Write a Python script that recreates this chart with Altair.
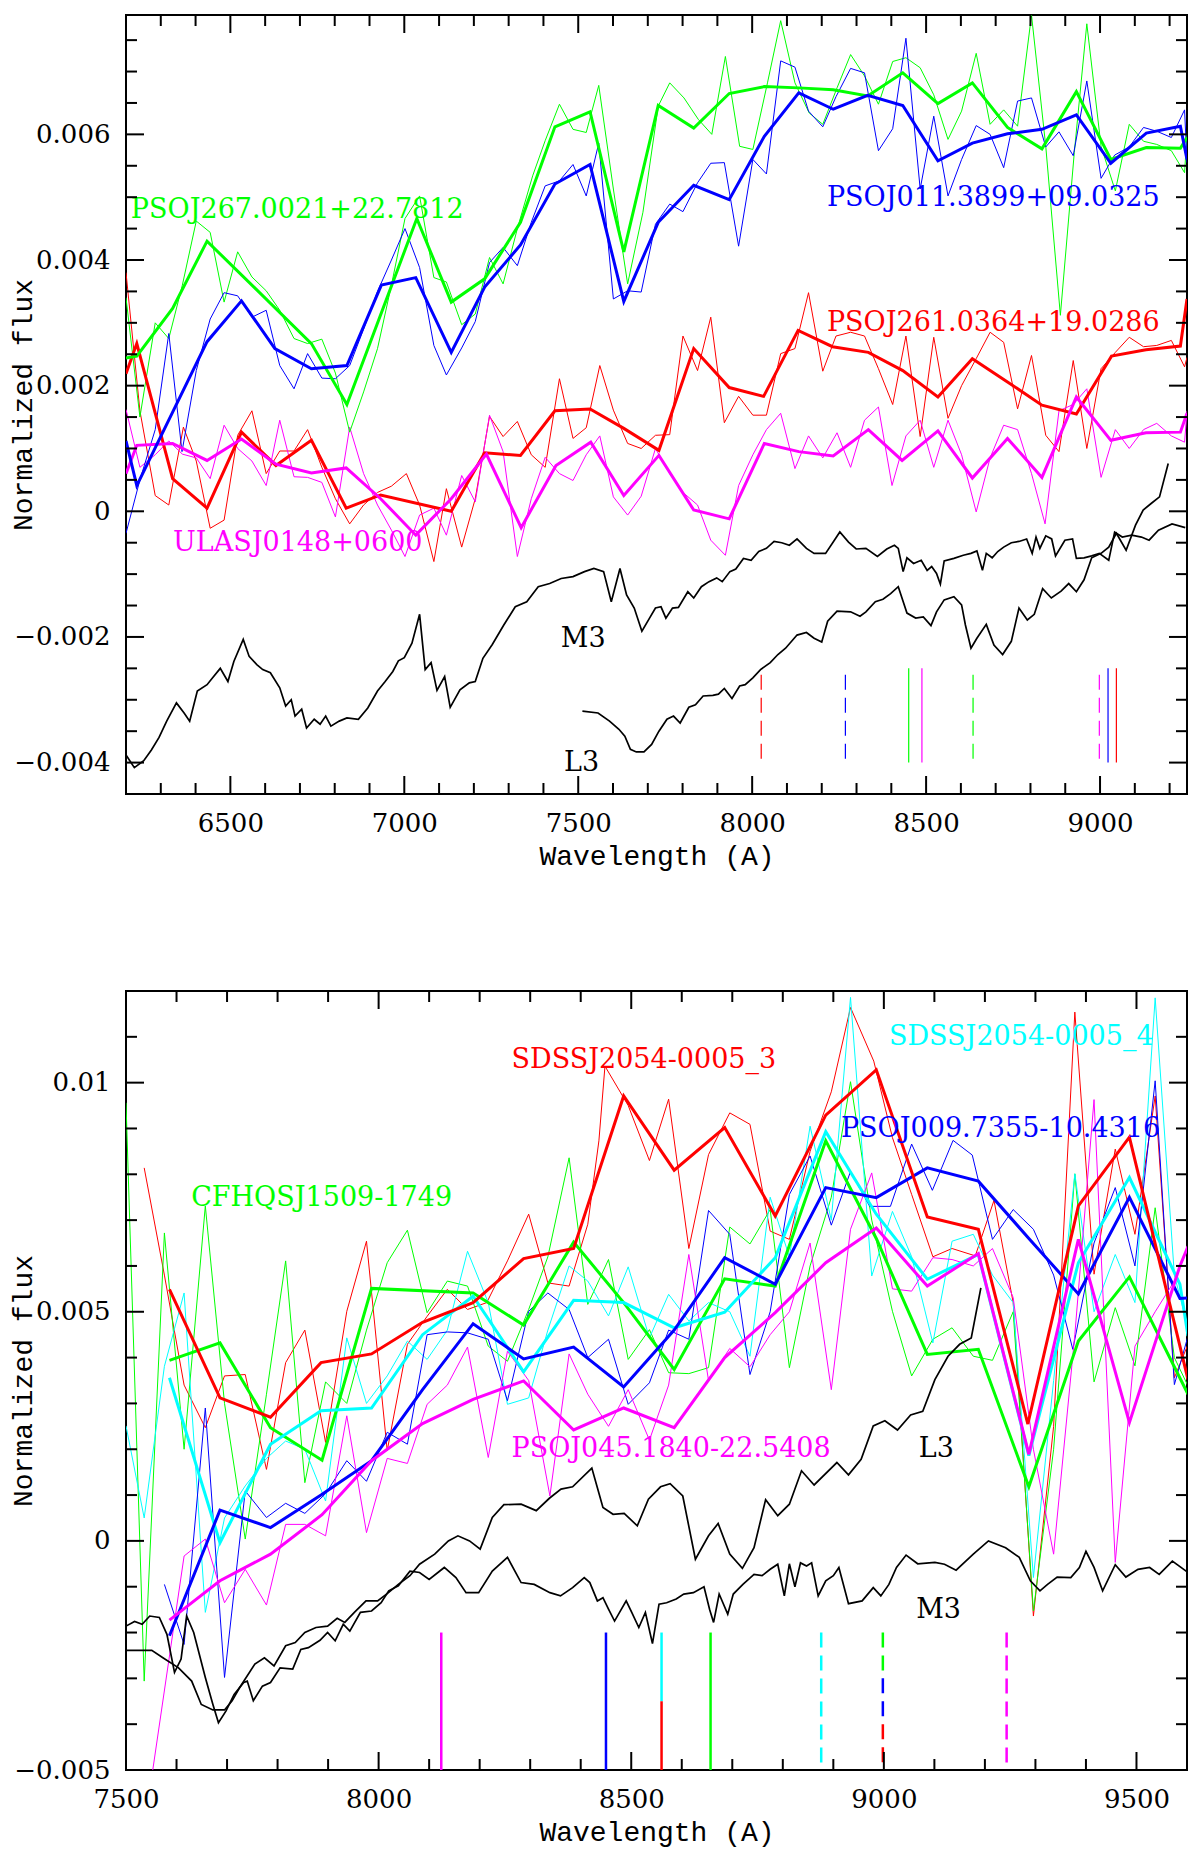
import altair as alt
import pandas as pd

GREEN = '#00ff00'
BLUE = '#0000ff'
RED = '#ff0000'
MAGENTA = '#ff00ff'
CYAN = '#00ffff'
BLACK = '#000000'

# ---------------- top panel: (wavelength A, flux in units of 1e-3) ----------------
top_green_bin = [(6200, 2.44), (6231, 2.47), (6334, 3.23), (6433, 4.30), (6733, 2.67), (6835, 1.70),
                 (7036, 4.66), (7135, 3.33), (7231, 3.70), (7334, 4.60), (7433, 6.12), (7534, 6.36),
                 (7631, 4.13), (7730, 6.46), (7832, 6.10), (7934, 6.65), (8035, 6.76), (8134, 6.74),
                 (8233, 6.71), (8332, 6.61), (8433, 6.98), (8534, 6.49), (8633, 6.82), (8734, 6.11),
                 (8833, 5.77), (8932, 6.68), (9031, 5.60), (9133, 5.79), (9231, 5.78), (9250, 5.95)]
top_blue_bin = [(6200, 1.12), (6231, 0.41), (6433, 2.70), (6532, 3.35), (6628, 2.59), (6733, 2.27),
                (6835, 2.32), (6934, 3.60), (7033, 3.72), (7135, 2.53), (7231, 3.57), (7334, 4.24),
                (7433, 5.21), (7534, 5.52), (7631, 3.34), (7730, 4.60), (7832, 5.19), (7934, 4.96),
                (8035, 5.97), (8134, 6.66), (8233, 6.40), (8332, 6.62), (8433, 6.46), (8534, 5.58),
                (8633, 5.86), (8734, 6.01), (8833, 6.08), (8932, 6.31), (9031, 5.54), (9133, 6.02),
                (9231, 6.13), (9250, 5.60)]
top_red_bin = [(6200, 2.19), (6231, 2.67), (6334, 0.52), (6433, 0.05), (6532, 1.26), (6631, 0.73),
               (6733, 1.13), (6833, 0.05), (6932, 0.26), (7135, 0.00), (7231, 0.93), (7334, 0.89),
               (7433, 1.60), (7534, 1.63), (7631, 1.32), (7732, 0.97), (7832, 2.59), (7934, 1.97),
               (8033, 1.83), (8132, 2.88), (8231, 2.62), (8334, 2.53), (8433, 2.24), (8534, 1.82),
               (8633, 2.43), (8734, 2.06), (8833, 1.69), (8932, 1.55), (9033, 2.47), (9132, 2.57),
               (9231, 2.63), (9250, 3.38)]
top_magenta_bin = [(6200, 0.60), (6231, 1.05), (6334, 1.08), (6433, 0.81), (6532, 1.15), (6631, 0.75),
                   (6733, 0.61), (6833, 0.69), (6932, 0.20), (7033, -0.38), (7135, 0.20), (7236, 0.91),
                   (7336, -0.26), (7436, 0.73), (7536, 1.10), (7631, 0.25), (7732, 0.89), (7832, 0.02),
                   (7934, -0.12), (8035, 1.08), (8134, 0.95), (8233, 0.88), (8334, 1.30), (8431, 0.81),
                   (8534, 1.28), (8633, 0.53), (8734, 1.16), (8833, 0.54), (8932, 1.82), (9031, 1.13),
                   (9132, 1.25), (9231, 1.26), (9250, 1.56)]

top_green_raw = [(6200, 3.40), (6240, 1.50), (6284, 3.00), (6323, 2.75), (6362, 3.60), (6402, 4.62),
                 (6442, 4.44), (6482, 3.33), (6521, 4.13), (6562, 3.73), (6603, 3.51), (6642, 3.20),
                 (6683, 2.75), (6722, 2.67), (6763, 2.74), (6802, 2.20), (6843, 1.26), (6883, 1.90),
                 (6923, 2.59), (6963, 3.60), (7002, 4.66), (7044, 5.02), (7085, 3.72), (7121, 3.65),
                 (7165, 2.97), (7204, 3.14), (7245, 4.04), (7284, 3.62), (7325, 4.50), (7369, 5.34),
                 (7405, 5.90), (7446, 6.48), (7485, 6.08), (7523, 6.03), (7559, 6.78), (7601, 5.13),
                 (7642, 3.62), (7686, 4.76), (7730, 6.45), (7763, 6.82), (7804, 6.58), (7845, 6.24),
                 (7884, 6.00), (7923, 7.24), (7964, 5.81), (8002, 5.76), (8044, 6.82), (8082, 7.81),
                 (8123, 6.82), (8164, 6.34), (8203, 6.16), (8244, 6.74), (8283, 7.27), (8323, 6.93),
                 (8363, 6.48), (8404, 7.16), (8442, 7.22), (8483, 7.06), (8522, 6.63), (8563, 5.92),
                 (8602, 6.37), (8644, 7.29), (8684, 6.16), (8723, 6.39), (8763, 6.13), (8803, 7.90),
                 (8844, 5.81), (8886, 3.12), (8926, 5.71), (8962, 7.76), (9003, 5.81), (9044, 5.10),
                 (9084, 6.16), (9125, 5.89), (9163, 5.84), (9205, 5.74), (9243, 5.39), (9250, 6.00)]
top_blue_raw = [(6200, -0.35), (6240, 0.50), (6284, 1.30), (6323, 2.83), (6361, 0.95), (6402, 2.24),
                (6442, 3.06), (6482, 3.48), (6521, 3.43), (6562, 3.09), (6603, 3.20), (6642, 2.32),
                (6683, 1.95), (6722, 2.51), (6763, 2.12), (6802, 2.11), (6843, 2.32), (6883, 2.90),
                (6923, 3.50), (6963, 4.00), (7002, 4.50), (7044, 3.88), (7085, 2.64), (7121, 2.17),
                (7165, 2.60), (7204, 3.02), (7245, 3.96), (7284, 4.20), (7325, 3.91), (7365, 4.60),
                (7405, 5.18), (7446, 5.26), (7485, 5.52), (7523, 5.02), (7559, 5.86), (7601, 3.38),
                (7642, 3.51), (7681, 3.49), (7722, 4.57), (7763, 4.89), (7801, 4.77), (7843, 5.23),
                (7881, 5.54), (7920, 5.55), (7961, 4.22), (8002, 5.60), (8041, 5.37), (8082, 7.17),
                (8123, 7.07), (8162, 6.37), (8203, 6.12), (8241, 6.60), (8283, 7.05), (8323, 6.98),
                (8363, 5.74), (8404, 6.09), (8442, 7.53), (8483, 5.13), (8522, 6.29), (8563, 5.02),
                (8602, 5.60), (8644, 6.14), (8684, 6.00), (8723, 5.47), (8763, 6.53), (8803, 6.58),
                (8844, 5.80), (8882, 6.04), (8923, 5.66), (8962, 6.85), (9003, 5.30), (9042, 5.67),
                (9084, 5.80), (9125, 6.11), (9163, 6.05), (9205, 5.95), (9243, 6.39), (9250, 5.55)]
top_red_raw = [(6200, 3.80), (6240, 1.60), (6284, 0.25), (6323, 0.10), (6365, 1.34), (6402, 0.80),
               (6442, -0.27), (6482, -0.14), (6521, 1.21), (6562, 1.60), (6603, 0.60), (6642, 0.96),
               (6683, 0.96), (6722, 1.30), (6763, 0.70), (6802, 0.20), (6843, -0.20), (6883, 0.10),
               (6923, 0.30), (6963, 0.40), (7006, 0.60), (7044, 0.10), (7085, -0.80), (7121, 0.36),
               (7165, -0.57), (7204, 0.20), (7245, 1.51), (7284, 1.19), (7325, 1.43), (7365, 0.90),
               (7405, 0.70), (7446, 2.11), (7485, 1.16), (7523, 1.33), (7562, 2.32), (7601, 1.61),
               (7642, 1.08), (7681, 1.00), (7722, 1.21), (7763, 1.22), (7801, 2.79), (7843, 2.24),
               (7881, 3.09), (7920, 1.41), (7961, 1.83), (8002, 1.53), (8041, 1.53), (8082, 2.51),
               (8123, 2.59), (8162, 3.48), (8203, 2.23), (8241, 2.79), (8283, 2.85), (8323, 2.79),
               (8363, 2.27), (8404, 1.70), (8442, 2.79), (8483, 1.19), (8522, 2.77), (8563, 1.48),
               (8602, 2.00), (8644, 2.43), (8684, 2.85), (8723, 2.69), (8763, 1.63), (8803, 2.48),
               (8844, 1.21), (8882, 0.95), (8923, 2.40), (8962, 1.00), (9003, 2.27), (9044, 2.53),
               (9084, 2.77), (9125, 2.62), (9163, 2.64), (9205, 2.72), (9243, 2.30), (9250, 2.45)]
top_magenta_raw = [(6200, 1.62), (6240, 0.70), (6284, 0.90), (6323, 1.12), (6362, 0.91), (6402, 0.85),
                   (6442, 0.52), (6482, 1.37), (6521, 1.00), (6562, 0.80), (6603, 0.41), (6642, 1.45),
                   (6683, 0.55), (6722, 0.54), (6763, 0.46), (6802, -0.09), (6843, 1.34), (6883, 0.60),
                   (6923, 0.10), (6963, -0.30), (7002, -0.72), (7044, -0.06), (7085, 0.05), (7121, -0.38),
                   (7165, 0.57), (7204, 0.15), (7245, 1.53), (7284, 0.95), (7325, -0.72), (7365, 0.20),
                   (7405, 0.86), (7446, 0.60), (7485, 0.49), (7523, 0.90), (7562, 1.20), (7601, 0.23),
                   (7642, -0.06), (7681, 0.24), (7722, 1.00), (7763, 0.60), (7801, 0.30), (7843, 0.10),
                   (7881, -0.46), (7923, -0.70), (7961, 0.41), (8002, 0.90), (8041, 1.30), (8082, 1.56),
                   (8123, 0.68), (8162, 1.20), (8203, 0.85), (8244, 1.25), (8283, 0.70), (8323, 1.45),
                   (8363, 1.66), (8402, 0.41), (8442, 1.20), (8483, 1.45), (8522, 0.70), (8563, 1.45),
                   (8602, 0.90), (8644, -0.01), (8684, 0.85), (8723, 1.37), (8763, 1.30), (8803, 0.60),
                   (8842, -0.20), (8882, 1.60), (8923, 1.70), (8962, 1.95), (9003, 0.54), (9044, 1.30),
                   (9084, 1.00), (9125, 1.30), (9163, 1.40), (9205, 1.20), (9243, 1.10), (9250, 1.60)]

top_m3 = [(6200, -3.88), (6224, -4.08), (6251, -3.97), (6273, -3.80), (6295, -3.60), (6317, -3.34),
          (6345, -3.05), (6367, -3.21), (6383, -3.34), (6405, -2.86), (6433, -2.76), (6449, -2.65),
          (6471, -2.50), (6493, -2.71), (6510, -2.39), (6537, -2.04), (6554, -2.31), (6576, -2.44),
          (6593, -2.52), (6615, -2.57), (6642, -2.81), (6659, -3.10), (6675, -3.00), (6686, -3.26),
          (6705, -3.15), (6719, -3.45), (6741, -3.31), (6758, -3.39), (6774, -3.26), (6789, -3.42),
          (6813, -3.34), (6835, -3.29), (6868, -3.31), (6895, -3.13), (6923, -2.86), (6945, -2.71),
          (6967, -2.55), (6983, -2.38), (7000, -2.33), (7022, -2.10), (7044, -1.64), (7060, -2.52),
          (7077, -2.41), (7094, -2.85), (7116, -2.63), (7132, -3.12), (7160, -2.84), (7187, -2.73),
          (7204, -2.71), (7226, -2.34), (7253, -2.12), (7286, -1.81), (7319, -1.52), (7352, -1.44),
          (7385, -1.20), (7418, -1.15), (7451, -1.07), (7485, -1.04), (7518, -0.96), (7545, -0.91),
          (7573, -0.96), (7595, -1.44), (7620, -0.91), (7639, -1.33), (7661, -1.54), (7683, -1.91),
          (7705, -1.70), (7722, -1.54), (7738, -1.52), (7752, -1.70), (7771, -1.54), (7788, -1.53),
          (7815, -1.28), (7832, -1.38), (7854, -1.20), (7876, -1.12), (7898, -1.06), (7914, -1.12),
          (7936, -0.96), (7953, -0.92), (7975, -0.75), (7997, -0.78), (8019, -0.64), (8041, -0.59),
          (8063, -0.48), (8085, -0.50), (8107, -0.54), (8129, -0.44), (8156, -0.59), (8178, -0.67),
          (8211, -0.67), (8233, -0.49), (8252, -0.33), (8277, -0.49), (8299, -0.60), (8327, -0.59),
          (8360, -0.72), (8387, -0.60), (8409, -0.54), (8420, -0.59), (8434, -0.96), (8445, -0.74),
          (8464, -0.83), (8486, -0.78), (8503, -0.94), (8516, -0.88), (8530, -0.99), (8541, -1.16),
          (8552, -0.79), (8580, -0.75), (8607, -0.70), (8629, -0.67), (8646, -0.63), (8662, -0.94),
          (8673, -0.67), (8690, -0.74), (8706, -0.64), (8723, -0.57), (8745, -0.50), (8767, -0.48),
          (8789, -0.44), (8805, -0.67), (8816, -0.41), (8827, -0.59), (8844, -0.39), (8861, -0.44),
          (8872, -0.71), (8899, -0.46), (8921, -0.44), (8932, -0.75), (8954, -0.74), (8976, -0.71),
          (8998, -0.67), (9025, -0.78), (9042, -0.33), (9064, -0.41), (9091, -0.38), (9119, -0.41),
          (9141, -0.46), (9168, -0.30), (9207, -0.20), (9245, -0.26)]
top_l3 = [(7512, -3.18), (7557, -3.21), (7590, -3.34), (7617, -3.47), (7634, -3.58), (7650, -3.79),
          (7667, -3.83), (7689, -3.83), (7711, -3.71), (7732, -3.50), (7755, -3.31), (7774, -3.26),
          (7793, -3.37), (7818, -3.12), (7837, -3.08), (7859, -2.94), (7887, -2.93), (7903, -2.91),
          (7920, -2.82), (7942, -2.98), (7964, -2.78), (7980, -2.76), (8002, -2.65), (8024, -2.52),
          (8052, -2.41), (8074, -2.28), (8096, -2.18), (8129, -1.97), (8156, -1.93), (8178, -2.02),
          (8200, -2.08), (8217, -1.75), (8244, -1.59), (8283, -1.60), (8310, -1.67), (8327, -1.60),
          (8354, -1.44), (8376, -1.40), (8398, -1.31), (8420, -1.20), (8445, -1.62), (8470, -1.70),
          (8492, -1.68), (8514, -1.82), (8530, -1.60), (8552, -1.41), (8580, -1.36), (8602, -1.49),
          (8613, -1.81), (8629, -2.18), (8646, -2.02), (8673, -1.80), (8695, -2.13), (8720, -2.28),
          (8745, -2.07), (8767, -1.54), (8791, -1.73), (8811, -1.64), (8835, -1.23), (8860, -1.38),
          (8888, -1.27), (8910, -1.15), (8932, -1.28), (8954, -1.09), (8976, -0.74), (9003, -0.67),
          (9025, -0.57), (9047, -0.35), (9075, -0.62), (9102, -0.22), (9124, 0.02), (9146, 0.12),
          (9171, 0.23), (9196, 0.76)]

# line markers: wavelength, colour, dashed, top, bottom (flux 1e-3)
top_markers = [(8026, RED, True, -2.6, -4.0), (8268, BLUE, True, -2.6, -4.0),
               (8450, GREEN, False, -2.5, -4.0), (8488, MAGENTA, False, -2.5, -4.0),
               (8635, GREEN, True, -2.6, -4.0), (8998, MAGENTA, True, -2.6, -4.0),
               (9023, BLUE, False, -2.5, -4.0), (9047, RED, False, -2.5, -4.0)]
top_labels = [('PSOJ267.0021+22.7812', 6214, 4.80, GREEN), ('PSOJ011.3899+09.0325', 8215, 4.98, BLUE),
              ('PSOJ261.0364+19.0286', 8215, 3.00, RED), ('ULASJ0148+0600', 6335, -0.50, MAGENTA),
              ('M3', 7450, -2.03, BLACK), ('L3', 7459, -4.01, BLACK)]

# ---------------- bottom panel ----------------
bot_red_bin = [(7586, 5.49), (7686, 3.12), (7786, 2.70), (7886, 3.89), (7986, 4.08), (8087, 4.77),
               (8187, 5.20), (8287, 6.16), (8386, 6.38), (8485, 9.71), (8585, 8.09), (8685, 9.02),
               (8785, 7.09), (8885, 9.29), (8985, 10.28), (9086, 7.07), (9187, 6.80), (9285, 2.55),
               (9385, 7.31), (9486, 8.81), (9602, 3.52)]
bot_green_bin = [(7586, 3.94), (7686, 4.32), (7786, 2.47), (7888, 1.76), (7986, 5.51), (8187, 5.41),
                 (8287, 4.71), (8386, 6.52), (8485, 5.20), (8585, 3.74), (8685, 5.72), (8785, 5.56),
                 (8885, 8.73), (8985, 6.60), (9086, 4.07), (9187, 4.18), (9287, 1.18), (9385, 4.36),
                 (9486, 5.76), (9602, 3.20)]
bot_cyan_bin = [(7586, 3.56), (7686, -0.04), (7786, 2.11), (7886, 2.84), (7986, 2.90), (8087, 4.50),
                (8187, 5.34), (8287, 3.69), (8386, 5.25), (8485, 5.20), (8585, 4.65), (8685, 4.99),
                (8785, 6.18), (8885, 8.93), (8985, 7.13), (9086, 5.71), (9187, 6.25), (9287, 1.86),
                (9385, 6.07), (9486, 7.93), (9586, 5.60), (9602, 4.47)]
bot_blue_bin = [(7586, -2.07), (7686, 0.67), (7786, 0.29), (7886, 1.00), (7986, 1.75), (8087, 3.30),
                (8187, 4.74), (8287, 3.97), (8386, 4.23), (8485, 3.36), (8585, 4.60), (8685, 6.18),
                (8785, 5.60), (8885, 7.71), (8985, 7.49), (9086, 8.14), (9187, 7.85), (9287, 6.60),
                (9385, 5.39), (9486, 7.50), (9586, 5.29), (9602, 5.30)]
bot_magenta_bin = [(7586, -1.73), (7686, -0.87), (7786, -0.29), (7888, 0.57), (7986, 1.75), (8087, 2.56),
                   (8187, 3.09), (8287, 3.49), (8386, 2.42), (8485, 2.90), (8585, 2.47), (8685, 4.00),
                   (8785, 4.98), (8885, 6.07), (8985, 6.83), (9086, 5.56), (9187, 6.27), (9287, 1.89),
                   (9385, 6.58), (9486, 2.58), (9586, 6.00), (9602, 6.43)]

bot_red_raw = [(7536, 8.14), (7576, 5.80), (7615, 3.40), (7657, 2.47), (7695, 3.60), (7736, 3.63),
               (7778, 1.56), (7816, 3.89), (7854, 4.60), (7895, 2.15), (7937, 5.01), (7976, 6.54),
               (8017, 1.97), (8057, 4.29), (8096, 4.90), (8136, 5.49), (8176, 5.05), (8214, 5.20),
               (8255, 6.11), (8297, 7.13), (8335, 5.63), (8377, 5.56), (8414, 6.91), (8436, 8.73),
               (8448, 10.36), (8494, 9.50), (8536, 8.30), (8574, 9.64), (8614, 6.38), (8653, 8.43),
               (8695, 9.34), (8735, 9.09), (8775, 6.76), (8813, 6.58), (8854, 8.50), (8896, 9.80),
               (8934, 11.64), (8980, 10.47), (9017, 8.80), (9055, 7.56), (9097, 6.20), (9135, 6.38),
               (9181, 6.22), (9218, 7.43), (9256, 5.20), (9296, -1.64), (9336, 2.50), (9378, 11.54),
               (9416, 5.82), (9458, 8.55), (9497, 6.69), (9537, 9.71), (9575, 3.56), (9602, 4.29)]
bot_green_raw = [(7500, 9.56), (7536, -3.06), (7576, 6.72), (7615, 2.00), (7657, 7.31), (7695, 3.00),
                 (7736, 0.04), (7778, 3.20), (7816, 6.11), (7854, 1.27), (7895, 3.47), (7937, 3.00),
                 (7976, 4.60), (8017, 6.07), (8057, 6.78), (8096, 4.98), (8136, 5.67), (8176, 5.56),
                 (8217, 4.25), (8255, 3.92), (8297, 5.05), (8335, 6.20), (8377, 8.36), (8414, 5.16),
                 (8455, 6.14), (8494, 3.96), (8536, 4.61), (8574, 3.67), (8614, 3.65), (8653, 3.78),
                 (8695, 6.85), (8735, 6.48), (8775, 7.23), (8813, 3.78), (8854, 6.00), (8896, 7.50),
                 (8934, 10.02), (8976, 7.00), (9017, 5.01), (9055, 3.60), (9097, 4.40), (9135, 4.65),
                 (9177, 4.03), (9215, 3.94), (9256, 5.00), (9296, -1.53), (9336, 2.00), (9378, 8.01),
                 (9416, 3.47), (9458, 5.09), (9497, 3.82), (9537, 7.27), (9575, 4.00), (9602, 3.38)]
bot_cyan_raw = [(7500, 2.51), (7536, 0.50), (7576, 3.81), (7615, 5.41), (7657, -1.56), (7695, 0.50),
                (7736, 1.20), (7778, 1.80), (7816, 2.18), (7854, 2.00), (7895, 0.87), (7937, 4.43),
                (7976, 3.00), (8017, 3.60), (8057, 4.36), (8096, 3.96), (8136, 4.60), (8176, 6.32),
                (8217, 5.20), (8255, 2.98), (8297, 3.12), (8335, 4.60), (8377, 6.00), (8414, 5.67),
                (8455, 4.91), (8494, 5.98), (8536, 4.43), (8574, 5.38), (8614, 4.80), (8653, 5.20),
                (8695, 5.00), (8735, 4.03), (8775, 7.50), (8813, 6.20), (8854, 9.05), (8896, 7.00),
                (8934, 11.86), (8976, 5.78), (9017, 7.19), (9055, 6.20), (9097, 4.32), (9135, 6.54),
                (9177, 6.69), (9215, 5.80), (9256, 5.20), (9296, -0.80), (9336, 3.50), (9378, 8.01),
                (9416, 5.00), (9458, 6.25), (9497, 5.20), (9537, 11.85), (9575, 5.80), (9602, 4.65)]
bot_blue_raw = [(7576, -0.95), (7615, -2.26), (7657, 2.90), (7695, -2.98), (7736, 1.09), (7778, 0.51),
                (7816, 0.82), (7854, 0.60), (7895, 1.03), (7937, 1.75), (7976, 1.30), (8017, 2.37),
                (8057, 2.11), (8096, 4.50), (8136, 4.56), (8176, 4.54), (8217, 4.40), (8255, 3.06),
                (8297, 5.01), (8335, 5.41), (8377, 5.05), (8414, 4.00), (8455, 4.40), (8494, 2.98),
                (8536, 3.45), (8574, 4.60), (8614, 4.40), (8653, 7.21), (8695, 6.69), (8735, 3.63),
                (8775, 5.00), (8813, 7.56), (8854, 8.40), (8896, 6.89), (8934, 8.06), (8972, 7.30),
                (9013, 7.30), (9055, 8.66), (9096, 7.65), (9137, 8.74), (9175, 8.42), (9215, 6.58),
                (9256, 7.23), (9296, 6.80), (9336, 5.80), (9374, 4.18), (9416, 6.50), (9458, 7.71),
                (9497, 6.00), (9537, 10.04), (9575, 3.41), (9602, 4.47)]
bot_magenta_raw = [(7545, -5.60), (7615, -0.33), (7657, 0.04), (7695, -1.35), (7736, -0.62), (7778, -1.40),
                   (7816, 0.36), (7854, 0.36), (7895, 0.11), (7937, 2.73), (7976, 0.18), (8017, 1.80),
                   (8057, 1.69), (8096, 2.98), (8136, 3.40), (8176, 4.23), (8217, 1.82), (8255, 4.14),
                   (8297, 3.50), (8339, 0.98), (8377, 4.08), (8414, 3.20), (8455, 2.50), (8494, 3.30),
                   (8536, 2.20), (8574, 3.40), (8614, 6.25), (8653, 3.50), (8695, 4.20), (8735, 3.80),
                   (8775, 4.50), (8813, 5.00), (8854, 6.50), (8896, 3.30), (8934, 6.80), (8976, 8.03),
                   (9017, 5.50), (9055, 5.45), (9097, 6.18), (9135, 6.14), (9177, 6.00), (9215, 6.38),
                   (9256, 5.31), (9296, 2.00), (9336, -0.29), (9378, 4.50), (9416, 9.63), (9458, -0.47),
                   (9497, 4.25), (9537, 5.00), (9575, 5.67), (9602, 6.40)]

bot_l3 = [(7500, -2.39), (7551, -2.39), (7573, -2.55), (7604, -2.77), (7630, -3.06), (7649, -3.57),
          (7672, -3.69), (7695, -3.69), (7710, -3.49), (7725, -3.20), (7755, -2.69), (7774, -2.55),
          (7793, -2.73), (7816, -2.29), (7835, -2.22), (7854, -2.00), (7876, -1.89), (7899, -1.86),
          (7918, -1.69), (7933, -1.78), (7952, -1.56), (7975, -1.31), (7998, -1.31), (8017, -1.15),
          (8039, -0.95), (8062, -0.76), (8081, -0.51), (8111, -0.29), (8138, 0.00), (8157, 0.11),
          (8180, 0.00), (8201, -0.18), (8225, 0.51), (8248, 0.79), (8282, 0.80), (8312, 0.66),
          (8338, 0.93), (8361, 1.13), (8384, 1.18), (8422, 1.59), (8433, 1.16), (8444, 0.73),
          (8464, 0.58), (8486, 0.60), (8512, 0.33), (8534, 0.91), (8558, 1.18), (8577, 1.25),
          (8602, 0.98), (8627, -0.40), (8653, 0.11), (8672, 0.38), (8695, -0.29), (8720, -0.60),
          (8743, -0.15), (8766, 0.90), (8790, 0.55), (8813, 0.80), (8837, 1.53), (8862, 1.22),
          (8907, 1.71), (8930, 1.44), (8955, 1.78), (8979, 2.51), (9002, 2.62), (9027, 2.42),
          (9053, 2.75), (9077, 2.83), (9101, 3.52), (9127, 4.03), (9150, 4.29), (9173, 4.43),
          (9192, 5.52)]
bot_m3 = [(7500, -1.86), (7517, -1.76), (7532, -1.82), (7547, -1.64), (7566, -1.67), (7581, -2.04),
          (7596, -2.87), (7609, -2.58), (7620, -1.64), (7634, -2.00), (7657, -2.98), (7672, -3.57),
          (7683, -3.97), (7698, -3.71), (7714, -3.35), (7733, -3.09), (7740, -3.06), (7752, -3.49),
          (7770, -3.17), (7786, -3.09), (7805, -2.77), (7830, -2.80), (7846, -2.37), (7861, -2.33),
          (7884, -2.17), (7899, -2.00), (7914, -2.18), (7930, -1.82), (7943, -1.97), (7964, -1.56),
          (7986, -1.53), (8005, -1.35), (8020, -1.09), (8039, -0.98), (8062, -0.66), (8081, -0.69),
          (8100, -0.84), (8130, -0.58), (8153, -0.80), (8173, -1.13), (8198, -1.13), (8225, -0.66),
          (8255, -0.36), (8282, -0.91), (8308, -0.95), (8339, -1.13), (8360, -1.20), (8384, -1.02),
          (8407, -0.80), (8418, -0.91), (8433, -1.31), (8444, -1.24), (8455, -1.49), (8467, -1.75),
          (8490, -1.31), (8501, -1.56), (8515, -1.89), (8528, -1.56), (8542, -2.24), (8555, -1.38),
          (8570, -1.35), (8589, -1.27), (8604, -1.16), (8623, -1.13), (8644, -1.00), (8655, -1.49),
          (8663, -1.78), (8674, -1.16), (8691, -1.60), (8702, -1.16), (8721, -0.95), (8743, -0.73),
          (8759, -0.76), (8775, -0.62), (8790, -0.51), (8803, -1.20), (8813, -0.50), (8824, -1.00),
          (8835, -0.48), (8847, -0.55), (8857, -0.48), (8870, -1.20), (8885, -0.87), (8900, -0.76),
          (8911, -0.58), (8930, -1.37), (8957, -1.31), (8979, -1.02), (8994, -1.20), (9010, -0.95),
          (9025, -0.58), (9044, -0.31), (9067, -0.50), (9101, -0.47), (9120, -0.51), (9143, -0.64),
          (9177, -0.29), (9207, 0.00), (9241, -0.15), (9268, -0.36), (9290, -0.87), (9309, -1.09),
          (9324, -0.95), (9343, -0.79), (9370, -0.80), (9387, -0.58), (9400, -0.23), (9416, -0.58),
          (9433, -1.09), (9458, -0.52), (9479, -0.79), (9503, -0.62), (9526, -0.58), (9545, -0.73),
          (9571, -0.44), (9602, -0.69)]

bot_markers = [(8124, MAGENTA, False, -2.0, -5.0), (8450, BLUE, False, -2.0, -5.0),
               (8560, CYAN, False, -2.0, -3.5), (8560, RED, False, -3.5, -5.0),
               (8657, GREEN, False, -2.0, -5.0), (8876, CYAN, True, -2.0, -5.0),
               (8998, GREEN, True, -2.0, -3.0), (8998, BLUE, True, -3.0, -4.0),
               (8998, RED, True, -4.0, -4.9), (9243, MAGENTA, True, -2.0, -5.0)]
bot_labels = [('SDSSJ2054-0005_3', 8263, 10.49, RED), ('SDSSJ2054-0005_4', 9010, 11.0, CYAN),
              ('PSOJ009.7355-10.4316', 8915, 8.98, BLUE), ('CFHQSJ1509-1749', 7629, 7.49, GREEN),
              ('PSOJ045.1840-22.5408', 8263, 2.00, MAGENTA), ('L3', 9069, 2.00, BLACK),
              ('M3', 9064, -1.51, BLACK)]

W, H = 1061, 779
SCALE = 1e-3


def to_df(points):
    return pd.DataFrame({'lam': [p[0] for p in points], 'flux': [p[1] * SCALE for p in points]})


def panel(xdom, ydom, xmajor, ymajor, xstep, ystep, thin, thick, black, markers, labels, mdash_w):
    xs = alt.Scale(domain=xdom, nice=False, zero=False)
    ys = alt.Scale(domain=ydom, nice=False, zero=False)
    xax = alt.Axis(values=xmajor, format='d', ticks=False, domain=False, grid=False,
                   labelFont='DejaVu Serif', labelFontSize=26, labelColor='black',
                   labelPadding=16, labelFlush=False, labelOverlap=False,
                   title='Wavelength (A)', titleFont='Liberation Mono', titleFontSize=28,
                   titleFontWeight='normal', titleColor='black', titlePadding=6)
    yax = alt.Axis(values=ymajor, format='~g', ticks=False, domain=False, grid=False,
                   labelFont='DejaVu Serif', labelFontSize=26, labelColor='black',
                   labelPadding=16, labelFlush=False, labelOverlap=False,
                   title='Normalized flux', titleFont='Liberation Mono', titleFontSize=28,
                   titleFontWeight='normal', titleColor='black', titleX=-95, titleY=H / 2,
                   titleBaseline='alphabetic')

    def X(f='lam'):
        return alt.X(f + ':Q', scale=xs, axis=xax)

    def Y(f='flux'):
        return alt.Y(f + ':Q', scale=ys, axis=yax)

    layers = []
    for pts, col in thin:
        layers.append(alt.Chart(to_df(pts)).mark_line(color=col, strokeWidth=1, clip=True)
                      .encode(x=X(), y=Y()))
    for pts, col in thick:
        layers.append(alt.Chart(to_df(pts)).mark_line(color=col, strokeWidth=3, clip=True)
                      .encode(x=X(), y=Y()))
    for pts in black:
        layers.append(alt.Chart(to_df(pts)).mark_line(color='black', strokeWidth=1.7, clip=True)
                      .encode(x=X(), y=Y()))

    for dashed in (False, True):
        sel = [m for m in markers if m[2] == dashed]
        mdf = pd.DataFrame({'lam': [m[0] for m in sel], 'color': [m[1] for m in sel],
                            'top': [m[3] * SCALE for m in sel], 'bot': [m[4] * SCALE for m in sel]})
        mk = dict(strokeWidth=mdash_w)
        if dashed:
            mk['strokeDash'] = [15, 8]
        layers.append(alt.Chart(mdf).mark_rule(**mk).encode(
            x=X(), y=Y('top'), y2=alt.Y2('bot'), color=alt.Color('color:N', scale=None)))

    ldf = pd.DataFrame({'text': [l[0] for l in labels], 'lam': [l[1] for l in labels],
                        'flux': [l[2] * SCALE for l in labels], 'color': [l[3] for l in labels]})
    layers.append(alt.Chart(ldf).mark_text(align='left', baseline='middle', font='DejaVu Serif',
                                           fontSize=27).encode(
        x=X(), y=Y(), text='text:N', color=alt.Color('color:N', scale=None)))

    # inward ticks on all four sides
    xminor = [v for v in range(int(xdom[0]) // 100 * 100 + 100, int(xdom[1]) + 1, xstep) if v not in xmajor]
    ysteps = int(round((ydom[1] - ydom[0]) / ystep))
    yminor = [round(ydom[0] + i * ystep, 6) for i in range(ysteps + 1)]
    yminor = [v for v in yminor if ydom[0] < v < ydom[1] and all(abs(v - m) > 1e-9 for m in ymajor)]
    for vals, L in ((xmajor, 18), (xminor, 11)):
        d = pd.DataFrame({'lam': vals})
        layers.append(alt.Chart(d).mark_rule(color='black', strokeWidth=2)
                      .encode(x=X(), y=alt.value(H), y2=alt.value(H - L)))
        layers.append(alt.Chart(d).mark_rule(color='black', strokeWidth=2)
                      .encode(x=X(), y=alt.value(0), y2=alt.value(L)))
    for vals, L in ((ymajor, 18), (yminor, 11)):
        d = pd.DataFrame({'flux': vals})
        layers.append(alt.Chart(d).mark_rule(color='black', strokeWidth=2)
                      .encode(y=Y(), x=alt.value(0), x2=alt.value(L)))
        layers.append(alt.Chart(d).mark_rule(color='black', strokeWidth=2)
                      .encode(y=Y(), x=alt.value(W), x2=alt.value(W - L)))
    return alt.layer(*layers).properties(width=W, height=H)


top = panel([6200, 9250], [-0.0045, 0.0079], [6500, 7000, 7500, 8000, 8500, 9000],
            [-0.004, -0.002, 0, 0.002, 0.004, 0.006], 100, 0.0005,
            [(top_red_raw, RED), (top_magenta_raw, MAGENTA), (top_green_raw, GREEN), (top_blue_raw, BLUE)],
            [(top_red_bin, RED), (top_magenta_bin, MAGENTA), (top_green_bin, GREEN), (top_blue_bin, BLUE)],
            [top_m3, top_l3], top_markers, top_labels, 1.2)

bottom = panel([7500, 9600], [-0.005, 0.012], [7500, 8000, 8500, 9000, 9500],
               [-0.005, 0, 0.005, 0.01], 100, 0.001,
               [(bot_red_raw, RED), (bot_green_raw, GREEN), (bot_cyan_raw, CYAN),
                (bot_blue_raw, BLUE), (bot_magenta_raw, MAGENTA)],
               [(bot_green_bin, GREEN), (bot_cyan_bin, CYAN), (bot_blue_bin, BLUE),
                (bot_magenta_bin, MAGENTA), (bot_red_bin, RED)],
               [bot_l3, bot_m3], bot_markers, bot_labels, 2.5)

chart = alt.vconcat(top, bottom, spacing=118).properties(
    padding={'left': 0, 'top': 5, 'right': 0, 'bottom': 0}
).configure_view(stroke='black', strokeWidth=2)

chart.save('out.html', embed_options={'renderer': 'svg', 'actions': False})
